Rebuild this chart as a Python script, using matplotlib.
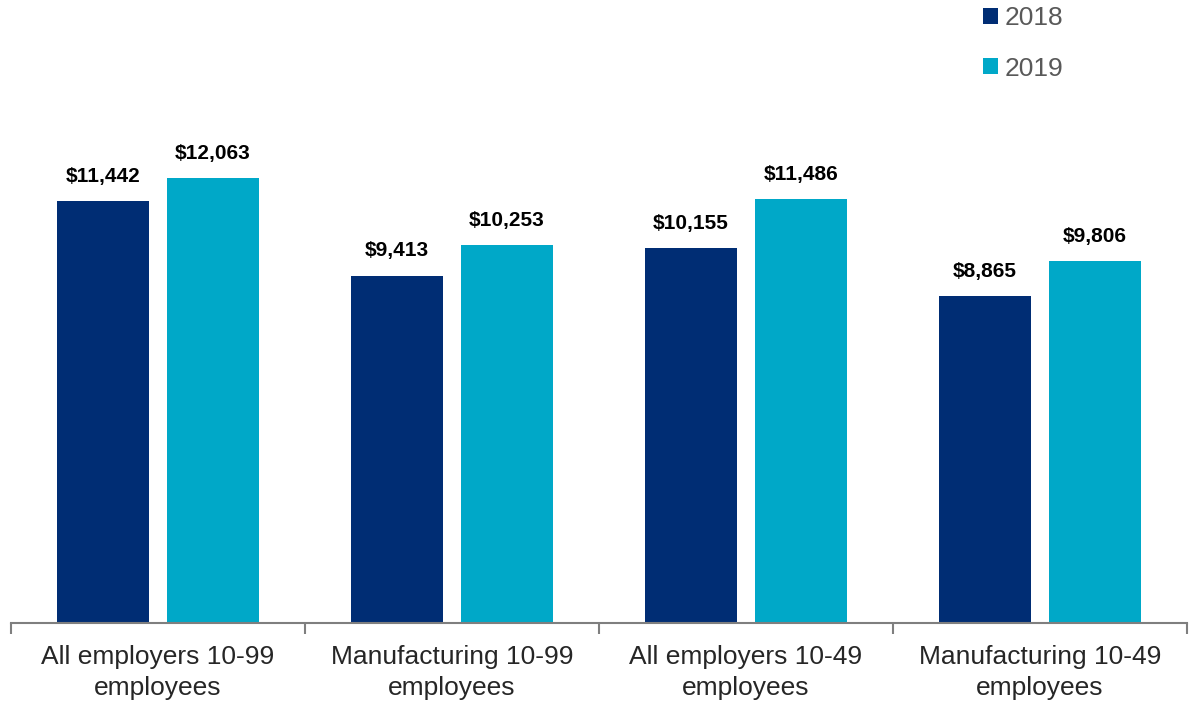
import numpy as np
import matplotlib.pyplot as plt

plt.rcParams['font.family'] = ['Liberation Sans', 'DejaVu Sans']

categories = ['All employers 10-99\nemployees', 'Manufacturing 10-99\nemployees',
              'All employers 10-49\nemployees', 'Manufacturing 10-49\nemployees']
years = ['2018', '2019']
vals_2018 = [11442, 9413, 10155, 8865]
vals_2019 = [12063, 10253, 11486, 9806]
colors = ['#002D74', '#00A8C8']

fig = plt.figure(figsize=(11.89, 7.02), dpi=100)
ax = fig.add_axes([11 / 1189, 79 / 702, 1176 / 1189, 523 / 702])

x = np.arange(len(categories))
w = 0.31
off = 0.187
for vals, dx, c, lab in [(vals_2018, -off, colors[0], years[0]),
                         (vals_2019, off, colors[1], years[1])]:
    bars = ax.bar(x + dx, vals, width=w, color=c, label=lab)
    for b, v in zip(bars, vals):
        ax.annotate('${:,}'.format(v), (b.get_x() + b.get_width() / 2, v),
                    xytext=(0, 11), textcoords='offset points',
                    ha='center', va='bottom', fontsize=15, fontweight='bold')

ax.set_xlim(-0.5, 3.5)
ax.set_ylim(0, 14178)
for s in ['top', 'right', 'left']:
    ax.spines[s].set_visible(False)
ax.spines['bottom'].set_color('#7f7f7f')
ax.spines['bottom'].set_linewidth(1.5)
ax.set_yticks([])

ax.set_xticks(x)
ax.set_xticklabels(categories, fontsize=19, color='#262626', linespacing=1.35)
ax.tick_params(axis='x', which='major', length=0, pad=16)
ax.set_xticks(np.arange(-0.5, 4, 1), minor=True)
ax.tick_params(axis='x', which='minor', length=8, width=1.5, color='#7f7f7f')

fig.legend(loc='upper left', bbox_to_anchor=(0.807, 1.025), frameon=False,
           handlelength=0.55, handleheight=0.55, handletextpad=0.25,
           labelspacing=1.0, prop={'size': 19}, labelcolor='#595959')

fig.savefig('out.png', dpi=100)
